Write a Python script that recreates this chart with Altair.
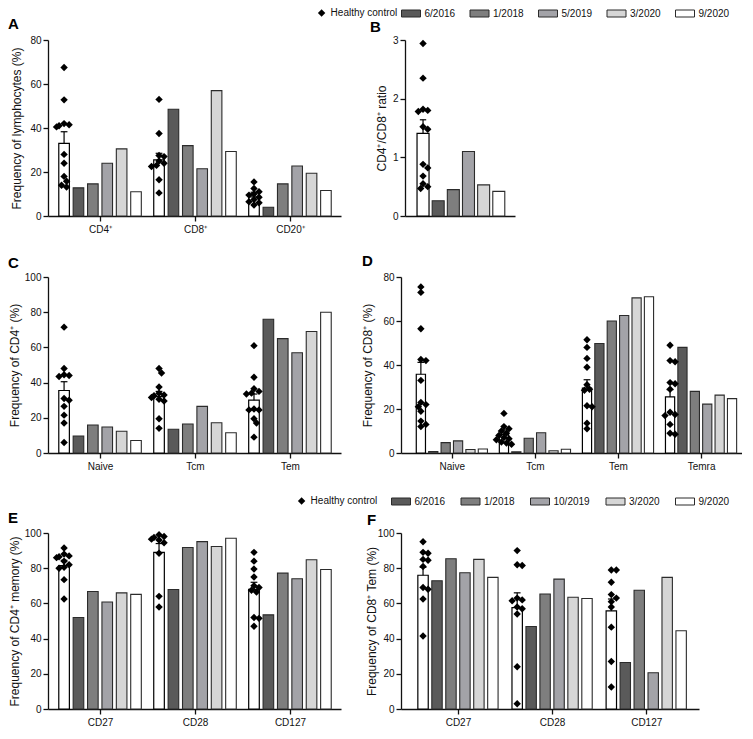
import json
import altair as alt
import pandas as pd

FONT = "Liberation Sans"
INK = "#111111"

# ---------------- data ----------------
dates_top = ["6/2016", "1/2018", "5/2019", "3/2020", "9/2020"]
dates_bottom = ["6/2016", "1/2018", "10/2019", "3/2020", "9/2020"]
bar_fills = ["#5a5a5a", "#7e7e7e", "#a3a3a8", "#d6d6d6", "#ffffff"]
hc_label = "Healthy control"

# A - frequency of lymphocytes
a_cats = ["CD4⁺", "CD8⁺", "CD20⁺"]
a_hc_mean = [33.0, 25.5, 8.7]
a_hc_top = [38.3, 28.5, 10.8]
a_hc_points = [
    [67.5, 52.8, 42.0, 41.5, 41.0, 40.5, 28.0, 24.0, 18.0, 15.8, 14.0, 13.2],
    [53.0, 37.5, 27.5, 27.0, 25.0, 24.0, 23.0, 22.5, 16.5, 10.5],
    [15.5, 12.5, 11.0, 10.0, 9.5, 8.5, 7.5, 6.5, 6.0, 5.0],
]
a_bars = [
    [12.8, 14.6, 24.0, 30.5, 11.0],
    [48.5, 32.0, 21.5, 57.0, 29.3],
    [4.0, 14.6, 22.7, 19.4, 11.6],
]

# B - CD4/CD8 ratio
b_cats = ["ratio"]
b_hc_mean = [1.41]
b_hc_top = [1.64]
b_hc_points = [[2.94, 2.35, 1.82, 1.80, 1.78, 1.52, 1.48, 0.88, 0.82, 0.68, 0.55, 0.50, 0.47]]
b_bars = [[0.26, 0.45, 1.10, 0.53, 0.42]]

# C - CD4 subsets
c_cats = ["Naive", "Tcm", "Tem"]
c_hc_mean = [35.5, 32.0, 30.0]
c_hc_top = [40.5, 35.0, 33.5]
c_hc_points = [
    [71.5, 48.0, 44.5, 44.0, 43.5, 31.0, 30.0, 26.5, 21.5, 17.0, 6.0],
    [48.0, 45.5, 37.5, 34.0, 33.0, 32.5, 31.5, 30.5, 29.5, 19.5, 14.0],
    [61.0, 43.0, 36.5, 35.0, 34.0, 33.5, 25.0, 24.5, 24.5, 19.5, 17.0, 9.0],
]
c_bars = [
    [9.7, 15.9, 14.8, 12.4, 7.1],
    [13.5, 16.5, 26.5, 17.2, 11.5],
    [76.0, 65.0, 57.0, 69.0, 80.0],
]

# D - CD8 subsets
d_cats = ["Naive", "Tcm", "Tem", "Temra"]
d_hc_mean = [35.8, 8.5, 29.5, 25.5]
d_hc_top = [41.2, 10.5, 33.3, 28.8]
d_hc_points = [
    [75.5, 73.0, 56.5, 42.5, 42.0, 33.0, 23.0, 22.0, 21.0, 19.0, 14.5, 13.0, 12.0],
    [18.0, 12.0, 11.0, 10.0, 9.0, 8.0, 7.0, 6.5, 6.0, 5.0, 4.5, 4.0],
    [51.5, 48.0, 43.0, 39.0, 31.0, 29.0, 28.5, 21.5, 21.0, 13.5, 11.0],
    [49.0, 42.0, 41.5, 32.0, 31.5, 29.0, 18.5, 17.5, 17.0, 13.0, 9.0, 8.5],
]
d_bars = [
    [0.7, 4.7, 5.5, 1.6, 1.8],
    [0.5, 6.7, 9.2, 1.0, 1.7],
    [49.8, 60.0, 62.5, 70.5, 71.0],
    [48.0, 28.0, 22.2, 26.3, 24.7],
]

# E - CD4 memory
e_cats = ["CD27", "CD28", "CD127"]
e_hc_mean = [81.5, 89.0, 68.0]
e_hc_top = [84.5, 94.0, 72.0]
e_hc_points = [
    [91.5, 88.0, 87.0, 86.5, 86.0, 84.0, 82.0, 80.5, 80.0, 73.5, 62.5],
    [99.0, 98.0, 97.5, 96.5, 96.0, 94.5, 88.5, 64.0, 58.0],
    [89.0, 84.0, 79.5, 75.0, 70.0, 69.0, 67.5, 66.5, 52.0, 51.5, 47.0],
]
e_bars = [
    [52.0, 66.8, 60.8, 66.0, 65.1],
    [67.9, 91.8, 95.1, 92.3, 97.0],
    [53.5, 77.2, 74.0, 84.8, 79.3],
]

# F - CD8 Tem
f_cats = ["CD27", "CD28", "CD127"]
f_hc_mean = [76.0, 57.6, 55.8]
f_hc_top = [80.5, 66.0, 62.5]
f_hc_points = [
    [95.0, 89.0, 88.5, 85.0, 84.5, 81.0, 69.0, 68.0, 62.5, 41.5],
    [90.0, 82.0, 81.5, 63.0, 62.0, 61.5, 58.0, 57.0, 54.0, 24.0, 3.0],
    [79.0, 79.0, 72.0, 65.0, 63.0, 61.0, 58.0, 46.5, 27.0, 12.5],
]
f_bars = [
    [72.9, 85.4, 77.4, 85.0, 74.8],
    [46.9, 65.3, 73.8, 63.5, 62.8],
    [26.4, 67.5, 20.6, 74.8, 44.5],
]

PLOT_H = 176
EXTRA = 19  # extra space above the bottom row's plots (room for its legend)


# ---------------- helpers ----------------
def swarm(values, px_y, px_x, dmin=5.0, step=2.6):
    """Simple beeswarm: horizontal offsets (data units) so diamonds don't pile up."""
    order = sorted(range(len(values)), key=lambda k: -values[k])
    cands = [0, step, -step, 2 * step, -2 * step, 3 * step, -3 * step]
    placed, out = [], [0.0] * len(values)
    for k in order:
        y = values[k] * px_y
        chosen = cands[-1]
        for c in cands:
            if all((c - px) ** 2 + (y - py) ** 2 >= dmin ** 2 for px, py in placed):
                chosen = c
                break
        placed.append((chosen, y))
        out[k] = chosen / px_x
    return out


def build_panel(cats, hc_mean, hc_top, hc_points, bars, dates, *, y_max, y_step,
                y_title, stride, x_lo, x_hi, width, bar_w, letter,
                letter_dx, letter_dy, title_pad, extra=0, x_range=None,
                axis_offset=0, x_labels=True, fill_legend=None, shape_legend=None):
    height = PLOT_H + extra
    span_px = (x_range[1] - x_range[0]) if x_range else width
    px_x = span_px / (x_hi - x_lo)
    px_y = PLOT_H / y_max

    bar_rows, hc_rows, pt_rows = [], [], []
    for g, cat in enumerate(cats):
        base = g * stride
        hc_rows.append({"pos": base, "mean": hc_mean[g], "top": hc_top[g],
                        "cap_l": base - 3.5 / px_x, "cap_r": base + 3.5 / px_x})
        for i, d in enumerate(dates):
            bar_rows.append({"pos": base + 1 + i, "value": bars[g][i], "series": d})
        offs = swarm(hc_points[g], px_y, px_x)
        for v, o in zip(hc_points[g], offs):
            pt_rows.append({"xj": base + o, "value": v, "grp": hc_label})

    df_bars = pd.DataFrame(bar_rows)
    df_hc = pd.DataFrame(hc_rows)
    df_pts = pd.DataFrame(pt_rows)

    xs = dict(domain=[x_lo, x_hi], nice=False, zero=False)
    if x_range:
        xs["range"] = x_range
    x_scale = alt.Scale(**xs)
    if x_labels:
        tick_vals = [g * stride + 2.5 for g in range(len(cats))]
        expr = f"{json.dumps(cats, ensure_ascii=False)}[round((datum.value - 2.5) / {stride})]"
        x_axis = alt.Axis(values=tick_vals, labelExpr=expr, title=None, grid=False,
                          labelAngle=0, labelPadding=3, labelFlush=False,
                          labelOverlap=False, tickSize=5)
    else:
        x_axis = alt.Axis(title=None, grid=False, labels=False, ticks=False)

    ys = dict(domain=[0, y_max], nice=False, zero=True)
    if extra:
        ys["range"] = [height, extra]
    y_scale = alt.Scale(**ys)
    y_axis = alt.Axis(values=list(range(0, y_max + 1, y_step)), title=y_title,
                      titlePadding=title_pad, minExtent=0, maxExtent=0, grid=False,
                      tickSize=5, labelPadding=2, offset=axis_offset)

    def X(f):
        return alt.X(f, type="quantitative", scale=x_scale, axis=x_axis)

    def Y(f):
        return alt.Y(f, type="quantitative", scale=y_scale, axis=y_axis)

    patient = alt.Chart(df_bars).mark_bar(
        size=bar_w, stroke="#2b2b2b", strokeWidth=1.1, orient="vertical"
    ).encode(
        x=X("pos"), y=Y("value"),
        fill=alt.Fill("series:N", scale=alt.Scale(domain=dates, range=bar_fills),
                      legend=fill_legend),
    )
    hc_bar = alt.Chart(df_hc).mark_bar(
        size=bar_w, fill="white", stroke="black", strokeWidth=1.2, orient="vertical"
    ).encode(x=X("pos"), y=Y("mean"))
    err = alt.Chart(df_hc).mark_rule(color="black", strokeWidth=1.2).encode(
        x=X("pos"), y=Y("mean"), y2="top")
    cap = alt.Chart(df_hc).mark_rule(color="black", strokeWidth=1.2).encode(
        x=X("cap_l"), x2="cap_r", y=Y("top"))
    pts = alt.Chart(df_pts).mark_point(
        filled=True, size=55, color="black", opacity=1, strokeWidth=0
    ).encode(
        x=X("xj"), y=Y("value"),
        shape=alt.Shape("grp:N", scale=alt.Scale(domain=[hc_label], range=["diamond"]),
                        legend=shape_legend),
    )
    return alt.layer(patient, hc_bar, err, cap, pts).properties(
        width=width, height=height,
        title=alt.TitleParams(text=letter, anchor="start", frame="group", orient="top",
                              font=FONT, fontSize=15, fontWeight="bold", color="black",
                              dx=letter_dx, dy=letter_dy, offset=4),
    )


RECT = "M-1.9,-0.7H1.9V0.7H-1.9Z"


def fill_leg(lx, ly, col_pad):
    return alt.Legend(orient="none", legendX=lx, legendY=ly, direction="horizontal",
                      columns=5, title=None, symbolType=RECT, symbolSize=100,
                      symbolStrokeColor="#2b2b2b", symbolStrokeWidth=1,
                      symbolOpacity=1, labelOffset=8, columnPadding=col_pad, padding=0)


def shape_leg(lx, ly):
    return alt.Legend(orient="none", legendX=lx, legendY=ly, title=None,
                      symbolSize=55, symbolFillColor="black", symbolStrokeColor="black",
                      symbolStrokeWidth=0, labelOffset=4, padding=0)


pA = build_panel(a_cats, a_hc_mean, a_hc_top, a_hc_points, a_bars, dates_top,
                 y_max=80, y_step=20, y_title="Frequency of lymphocytes (%)",
                 stride=6.6, x_lo=-0.77, x_hi=18.9, width=293, bar_w=10.6,
                 letter="A", letter_dx=-40, letter_dy=1, title_pad=25)
pB = build_panel(b_cats, b_hc_mean, b_hc_top, b_hc_points, b_bars, dates_top,
                 y_max=3, y_step=1, y_title="CD4⁺/CD8⁺ ratio",
                 stride=6.6, x_lo=-0.86, x_hi=5.74, width=114, bar_w=12.0,
                 x_range=[4, 114], axis_offset=-4, x_labels=False,
                 letter="B", letter_dx=-31, letter_dy=31, title_pad=17,
                 fill_legend=fill_leg(4.5, -32, 12.5), shape_legend=shape_leg(-84.4, -32))
pC = build_panel(c_cats, c_hc_mean, c_hc_top, c_hc_points, c_bars, dates_top,
                 y_max=100, y_step=20, y_title="Frequency of CD4⁺ (%)",
                 stride=6.6, x_lo=-0.77, x_hi=18.9, width=293, bar_w=10.6,
                 letter="C", letter_dx=-40, letter_dy=3, title_pad=27)
pD = build_panel(d_cats, d_hc_mean, d_hc_top, d_hc_points, d_bars, dates_top,
                 y_max=80, y_step=20, y_title="Frequency of CD8⁺ (%)",
                 stride=6.7, x_lo=-1.2, x_hi=25.5, width=341, bar_w=9.2,
                 letter="D", letter_dx=-39, letter_dy=1, title_pad=27)
pE = build_panel(e_cats, e_hc_mean, e_hc_top, e_hc_points, e_bars, dates_bottom,
                 y_max=100, y_step=20, y_title="Frequency of CD4⁺ memory (%)",
                 stride=6.6, x_lo=-0.77, x_hi=18.9, width=293, bar_w=10.6,
                 extra=EXTRA,
                 letter="E", letter_dx=-40, letter_dy=16, title_pad=27)
pF = build_panel(f_cats, f_hc_mean, f_hc_top, f_hc_points, f_bars, dates_bottom,
                 y_max=100, y_step=20, y_title="Frequency of CD8⁺ Tem (%)",
                 stride=6.74, x_lo=-1.22, x_hi=19.4, width=298, bar_w=10.4,
                 extra=EXTRA,
                 letter="F", letter_dx=-34, letter_dy=36, title_pad=23,
                 fill_legend=fill_leg(-5.5, -18, 13.5), shape_legend=shape_leg(-104.4, -18))

chart = alt.concat(
    pA, pB, pC, pD, pE, pF, columns=2,
    spacing={"row": 61, "column": 60}, bounds="flush", align="each",
).resolve_scale(
    x="independent", y="independent", fill="independent", shape="independent"
).resolve_legend(
    fill="independent", shape="independent"
).properties(padding=0).configure(
    font=FONT
).configure_view(stroke=None).configure_axis(
    labelFont=FONT, titleFont=FONT, labelColor=INK, titleColor=INK,
    domainColor=INK, tickColor=INK, labelFontSize=10, titleFontSize=12,
    titleFontWeight="normal", domainWidth=1.3, tickWidth=1.3, grid=False,
).configure_legend(
    labelFont=FONT, labelFontSize=10, labelColor=INK
).configure_title(font=FONT)

chart.save("out.html", embed_options={"renderer": "svg", "actions": False})
